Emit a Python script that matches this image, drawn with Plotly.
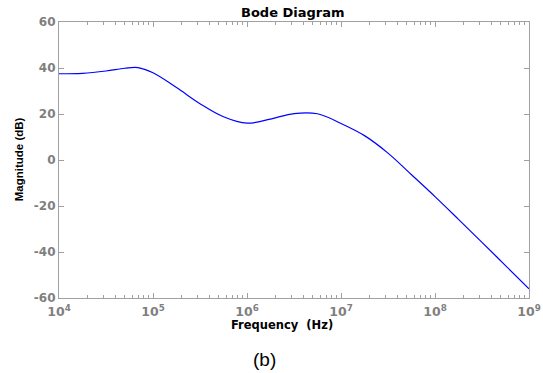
import plotly.graph_objects as go

# Data (frequency in Hz, magnitude in dB)
freq_hz = [1e4, 1.778e4, 3.162e4, 5.012e4, 6.918e4, 1e5, 1.778e5, 3.162e5, 5.623e5,
           1e6, 1.778e6, 3.162e6, 5.623e6, 1e7, 1.778e7, 3.162e7, 5.623e7,
           1e8, 1.778e8, 3.162e8, 5.623e8, 1e9]
mag_db = [37.5, 37.7, 38.7, 39.9, 40.2, 37.9, 31.5, 24.5, 18.8,
          16.0, 17.8, 20.2, 20.1, 15.9, 10.6, 3.0, -6.4,
          -15.9, -25.8, -35.8, -45.9, -56.0]

x_tick_vals = [1e4, 1e5, 1e6, 1e7, 1e8, 1e9]
x_tick_text = ["10<sup>4</sup>", "10<sup>5</sup>", "10<sup>6</sup>", "10<sup>7</sup>",
               "10<sup>8</sup>", "10<sup>9</sup>"]
x_minor_vals = [m * 10 ** e for e in range(4, 9) for m in range(2, 10)]
y_tick_vals = [-60, -40, -20, 0, 20, 40, 60]
y_tick_text = ["-60", "-40", "-20", "0", "20", "40", "60"]

title_text = "Bode Diagram"
x_label = "Frequency \u00a0(Hz)"
y_label = "Magnitude (dB)"
caption = "(b)"

axis_grey = "#a0a0a0"
label_grey = "#7f7f7f"
wide_font = "DejaVu Sans, Verdana, sans-serif"
arial = "Liberation Sans, Arial, sans-serif"

L, R, T, B = 59, 14, 21.5, 75
W, H = 543, 373
pw, ph = W - L - R, H - T - B


def px(xp):
    return (xp - L) / pw


def py(yp):
    return (H - B - yp) / ph


fig = go.Figure()
fig.add_trace(go.Scatter(x=freq_hz, y=mag_db, mode="lines",
                         line=dict(color="#0000ff", width=1.2, shape="spline", smoothing=1.0),
                         showlegend=False, hoverinfo="skip"))

fig.update_layout(
    width=W, height=H,
    margin=dict(l=L, r=R, t=T, b=B, pad=0),
    paper_bgcolor="white", plot_bgcolor="white",
    font=dict(family=arial),
    xaxis=dict(type="log", range=[4, 9], showgrid=False, zeroline=False, automargin=False,
               showline=True, linecolor=axis_grey, linewidth=1.2, mirror="ticks",
               ticks="inside", ticklen=5, tickcolor=axis_grey, ticklabelstandoff=2,
               tickvals=x_tick_vals, ticktext=x_tick_text,
               tickfont=dict(size=12.5, color=label_grey, family=wide_font, weight="bold"),
               minor=dict(tickvals=x_minor_vals, ticks="inside", ticklen=3, tickcolor=axis_grey,
                          showgrid=False)),
    yaxis=dict(range=[-60, 60], showgrid=False, zeroline=False, automargin=False,
               showline=True, linecolor=axis_grey, linewidth=1.2, mirror="ticks",
               ticks="inside", ticklen=5, tickcolor=axis_grey,
               tickvals=y_tick_vals, ticktext=y_tick_text,
               tickfont=dict(size=12, color=label_grey, family=wide_font, weight="bold")),
)

fig.add_annotation(text=title_text, xref="paper", yref="paper", x=px(293), y=py(11.5),
                   xanchor="center", yanchor="middle", showarrow=False,
                   font=dict(size=13, color="black", family=wide_font, weight="bold"))
fig.add_annotation(text=x_label, xref="paper", yref="paper", x=px(282), y=py(325.5),
                   xanchor="center", yanchor="middle", showarrow=False,
                   font=dict(size=11.5, color="black", family=wide_font, weight="bold"))
fig.add_annotation(text=y_label, xref="paper", yref="paper", x=px(19), y=py(159),
                   xanchor="center", yanchor="middle", textangle=-90, showarrow=False,
                   font=dict(size=11.5, color="black", family=arial, weight="bold"))
fig.add_annotation(text=caption, xref="paper", yref="paper", x=px(264), y=py(360),
                   xanchor="center", yanchor="middle", showarrow=False,
                   font=dict(size=19, color="black", family=arial))

fig.write_html("out.html", config={"displayModeBar": False},
               post_script="document.body.style.margin='0';document.body.style.overflow='hidden';")
